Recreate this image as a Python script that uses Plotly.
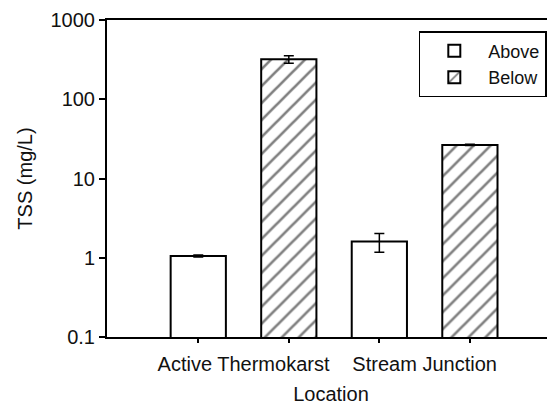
import plotly.graph_objects as go

locations = ["Active Thermokarst", "Stream Junction"]
above_vals = [1.05, 1.6]
above_err = [0.03, 0.43]
below_vals = [320, 26.5]
below_err = [35, 0.5]
y_tickvals = [0.1, 1, 10, 100, 1000]
y_ticktext = ["0.1", "1", "10", "100", "1000"]

FONT = dict(family="Liberation Sans, Arial, sans-serif", size=20, color="#111")
LEGFONT = dict(family="Liberation Sans, Arial, sans-serif", size=18, color="#111")

fig = go.Figure()
fig.add_trace(go.Bar(
    name="Above", x=locations, y=above_vals,
    marker=dict(color="white", line=dict(color="black", width=2)),
    error_y=dict(type="data", array=above_err, color="black", thickness=1.5, width=5),
))
fig.add_trace(go.Bar(
    name="Below", x=locations, y=below_vals,
    marker=dict(color="white", line=dict(color="black", width=2),
                pattern=dict(shape="/", fgcolor="black", bgcolor="white", size=12, solidity=0.22)),
    error_y=dict(type="data", array=below_err, color="black", thickness=1.5, width=5),
))

# tick marks at each bar centre (secondary overlaying axis, no labels)
n = len(locations)
bar_centres = []
for i in range(n):
    bar_centres += [i - 0.25, i + 0.25]
fig.add_trace(go.Scatter(x=bar_centres, y=[1] * len(bar_centres), xaxis="x2",
                         mode="markers", marker=dict(opacity=0), showlegend=False,
                         hoverinfo="skip"))

xr = [-0.754, 1.72]
fig.update_layout(
    width=547, height=397,
    margin=dict(l=99, r=0, t=12, b=68, autoexpand=False),
    paper_bgcolor="white", plot_bgcolor="white",
    font=FONT,
    barmode="group", bargap=0.0, bargroupgap=0.39,
    showlegend=True,
    legend=dict(x=0.696, y=0.965, xanchor="left", yanchor="top",
                bordercolor="black", borderwidth=1.5, bgcolor="white",
                font=LEGFONT, tracegroupgap=0, itemwidth=58),
    xaxis=dict(type="category", range=xr, showline=True, linecolor="black", linewidth=2,
               mirror=True, ticks="outside", ticklen=8, tickcolor="rgba(0,0,0,0)",
               showgrid=False, zeroline=False, automargin=False,
               title=dict(text="Location", font=FONT, standoff=14),
               tickfont=FONT),
    xaxis2=dict(overlaying="x", range=xr, showline=False, showgrid=False, zeroline=False,
                ticks="outside", ticklen=5, tickwidth=1.5, tickcolor="black", automargin=False,
                tickvals=bar_centres, showticklabels=False, side="bottom", anchor="y"),
    yaxis=dict(type="log", range=[-1, 3], showline=True, linecolor="black", linewidth=2,
               ticks="outside", ticklen=6, tickwidth=1.5, tickcolor="black", automargin=False,
               tickvals=y_tickvals, ticktext=y_ticktext, showgrid=False, zeroline=False,
               title=dict(text="TSS (mg/L)", font=FONT, standoff=13), tickfont=FONT),
)

fig.write_html("out.html")
